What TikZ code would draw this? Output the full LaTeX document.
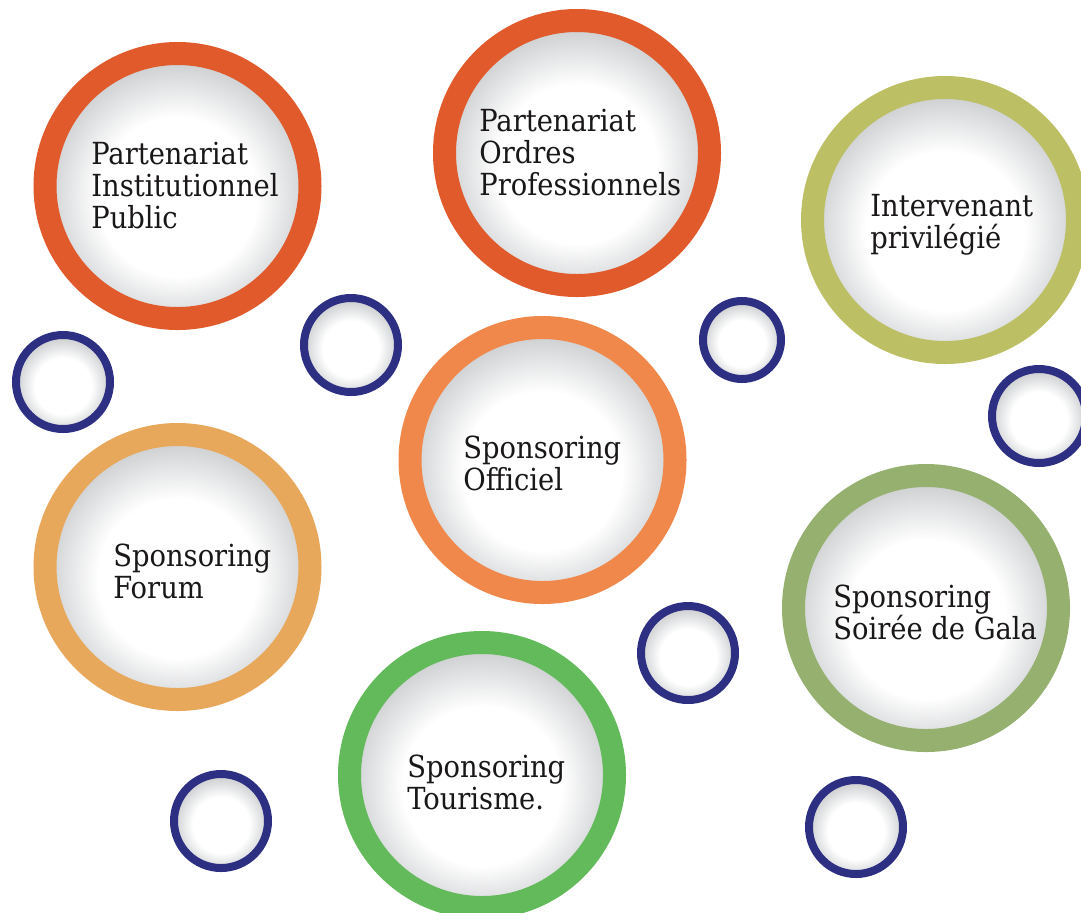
\documentclass[tikz,border=0pt]{standalone}
\usepackage{fontspec}
\newfontfamily\labfont{DejaVu Serif Condensed}
\definecolor{redor}{HTML}{E05A2B}
\definecolor{olive}{HTML}{BDBF64}
\definecolor{orng}{HTML}{F0884B}
\definecolor{sand}{HTML}{E8A85C}
\definecolor{sage}{HTML}{95B06F}
\definecolor{grn}{HTML}{62BA5A}
\definecolor{navy}{HTML}{2D2F82}
\definecolor{ink}{HTML}{1A1718}
\definecolor{edgegray}{HTML}{CDCFD1}
\pgfdeclareradialshading{ball}{\pgfpoint{0bp}{-3bp}}{color(0bp)=(white); color(15bp)=(white); color(25bp)=(edgegray); color(50bp)=(edgegray)}
\tikzset{
  bigc/.style={circle, minimum size=132.5pt, inner sep=0pt, line width=11.5pt, shading=ball, draw=#1},
  smallc/.style={circle, minimum size=47pt, inner sep=0pt, line width=4pt, shading=ball, draw=navy},
  lab/.style={anchor=north west, inner sep=0pt, align=left, text=ink, font=\labfont\fontsize{15.2}{16}\selectfont}
}
\begin{document}
\begin{tikzpicture}[x=0.5pt,y=-0.5pt]
\useasboundingbox (0,0) rectangle (1081,912);
% small circles
\node[smallc] (s1) at (63,382) {};
\node[smallc] (s2) at (351,345) {};
\node[smallc, minimum size=39pt] (s3) at (742,340) {};
\node[smallc] (s4) at (1039,416) {};
\node[smallc] (s5) at (688,653) {};
\node[smallc] (s6) at (221,821) {};
\node[smallc] (s7) at (856,827) {};
% big circles
\node[bigc=redor] (c1) at (177.5,186) {};
\node[bigc=redor] (c2) at (577,153) {};
\node[bigc=olive] (c3) at (945,220) {};
\node[bigc=orng] (c4) at (542.5,460) {};
\node[bigc=sand] (c5) at (177.5,567) {};
\node[bigc=sage] (c6) at (926,608) {};
\node[bigc=grn] (c7) at (482,775) {};
% labels
\node[lab] (t1) at (91,142) {Partenariat\\Institutionnel\\Public};
\node[lab] (t2) at (479,109) {Partenariat\\Ordres\\Professionnels};
\node[lab] (t3) at (870,194) {Intervenant\\privilégié};
\node[lab] (t4) at (463,436) {Sponsoring\\Officiel};
\node[lab] (t5) at (113,544) {Sponsoring\\Forum};
\node[lab] (t6) at (833,585) {Sponsoring\\Soirée de Gala};
\node[lab] (t7) at (407,755) {Sponsoring\\Tourisme.};
\end{tikzpicture}
\end{document}
